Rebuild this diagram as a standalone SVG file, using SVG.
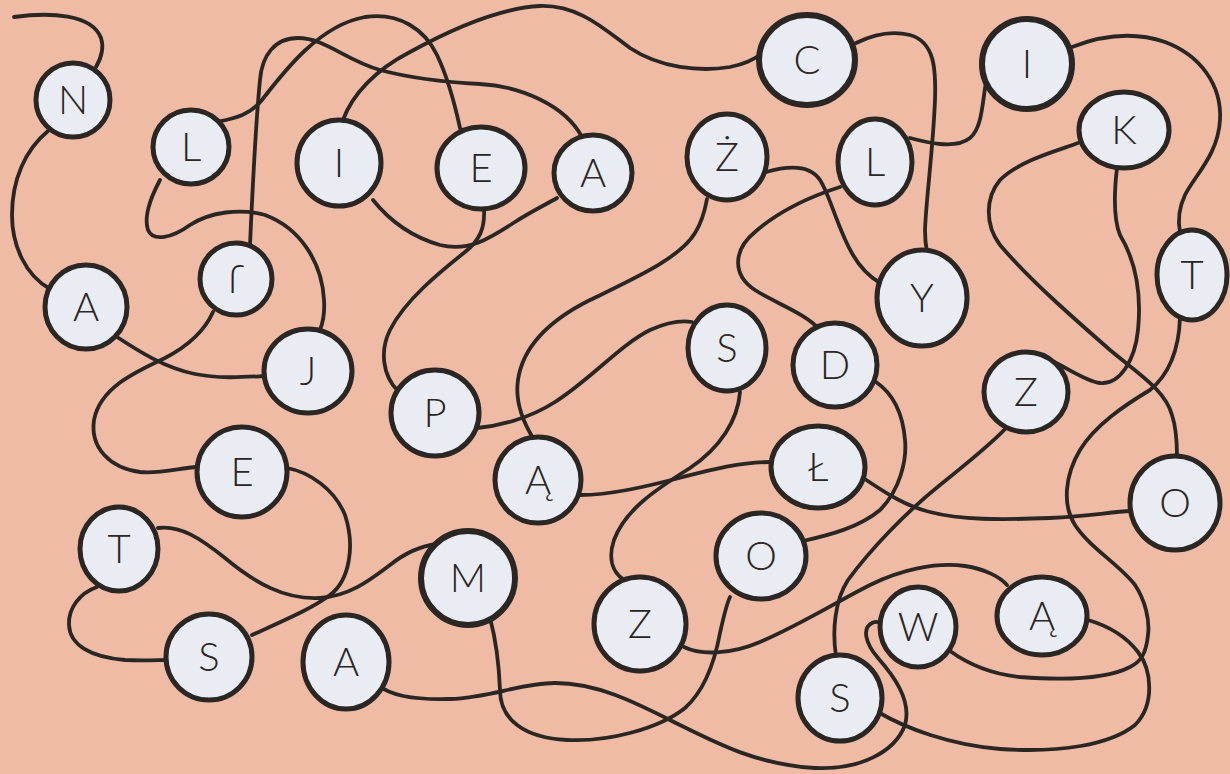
<svg xmlns="http://www.w3.org/2000/svg" width="1230" height="774" viewBox="0 0 1230 774">
<style>
.bg{fill:#EFBBA5}
.c path{fill:none;stroke:#2a2623;stroke-width:3.8;stroke-linecap:round;stroke-linejoin:round}
.n ellipse{fill:#E9ECF3;stroke:#2a2623;stroke-width:5}
.n text{font-family:Lato,"Open Sans","Liberation Sans",sans-serif;font-weight:300;font-size:40px;fill:#2a2623;text-anchor:middle}
</style>
<rect class="bg" x="0" y="0" width="1230" height="774"/>
<g id="connectors" class="c">
<path d="M14,17 C50,12 92,14 101,38 C105,50 100,60 96,67"/>
<path d="M48,131 C25,150 12,180 12,215 C12,245 25,275 50,289"/>
<path d="M117,337 C140,352 165,368 195,374 C220,379 245,377 265,376"/>
<path d="M160,180 C152,195 143,215 148,230 C153,242 172,238 190,225 C210,212 240,208 265,215 C300,228 322,262 324,300 C325,315 322,325 320,330"/>
<path d="M217,122 C235,118 250,115 262,100 C285,70 320,25 365,17 C400,12 425,30 437,55 C448,78 455,105 460,128"/>
<path d="M250,245 C252,200 256,120 260,80 C262,55 275,38 298,38 C325,38 345,60 380,70 C410,78 440,82 480,84 C520,86 565,105 582,137"/>
<path d="M343,120 C352,95 375,70 410,52 C450,30 500,8 540,6 C580,5 605,30 630,48 C660,68 700,72 730,67 C745,64 752,60 760,55"/>
<path d="M373,200 C385,215 405,235 440,245 C470,252 490,238 515,222 C530,212 545,205 557,198"/>
<path d="M484,209 C485,228 480,240 465,252 C440,272 405,300 390,330 C380,350 382,375 398,391"/>
<path d="M477,428 C500,426 530,418 555,402 C590,380 620,345 650,330 C668,322 680,320 692,322"/>
<path d="M740,392 C738,420 720,448 690,468 C655,490 625,510 614,540 C608,558 612,572 624,580"/>
<path d="M533,438 C522,420 515,400 518,380 C523,345 550,320 590,300 C635,278 680,258 695,233 C702,222 705,210 707,199"/>
<path d="M580,495 C610,495 645,487 683,477 C710,470 740,462 771,462"/>
<path d="M766,172 C780,168 808,162 820,180 C830,195 838,230 853,255 C860,267 870,277 880,283"/>
<path d="M840,187 C815,195 780,210 755,232 C733,250 732,275 755,290 C775,303 805,313 820,330"/>
<path d="M910,138 C925,142 955,150 970,138 C982,128 982,105 986,82"/>
<path d="M856,43 C870,36 890,30 910,35 C935,42 936,70 935,100 C933,150 926,200 925,230 C925,240 926,247 927,252"/>
<path d="M1072,47 C1095,38 1130,30 1165,42 C1200,55 1222,85 1220,120 C1218,155 1195,175 1185,195 C1178,210 1178,222 1180,232"/>
<path d="M1078,143 C1060,150 1020,160 1000,180 C985,198 985,225 1000,245 C1030,280 1070,315 1110,350 C1140,375 1165,390 1172,415 C1177,430 1177,445 1177,457"/>
<path d="M1117,168 C1115,185 1112,215 1120,235 C1135,260 1142,290 1138,330 C1135,360 1120,385 1100,383 C1085,381 1068,368 1050,360"/>
<path d="M1006,428 C995,440 965,465 940,485 C905,513 870,550 848,580 C835,600 832,630 836,656"/>
<path d="M857,474 C875,485 900,505 930,512 C960,520 1000,520 1050,518 C1090,516 1110,512 1131,511"/>
<path d="M1180,318 C1179,345 1172,372 1150,390 C1125,405 1095,425 1080,450 C1065,475 1062,505 1075,525 C1090,548 1120,565 1135,585 C1145,600 1150,620 1148,635 C1146,655 1140,662 1130,667 C1105,680 1060,680 1020,677 C990,674 968,664 950,651"/>
<path d="M878,712 C905,728 950,745 1000,749 C1060,753 1110,745 1135,725 C1155,705 1152,670 1138,652 C1125,635 1105,625 1088,620"/>
<path d="M684,647 C700,655 730,655 760,642 C800,625 840,600 870,585 C900,570 935,562 965,566 C985,569 1000,577 1007,585"/>
<path d="M490,618 C496,640 499,665 500,690 C500,720 525,738 567,740 C610,742 660,728 685,708 C705,690 715,660 720,633 C724,615 727,603 730,597"/>
<path d="M803,541 C830,535 860,527 880,510 C900,490 907,460 905,440 C903,415 895,395 876,382"/>
<path d="M376,684 C390,695 410,700 450,699 C490,698 520,683 555,683 C600,683 640,705 680,725 C720,745 760,765 815,768 C860,770 895,752 905,725 C912,700 893,675 878,658 C865,643 862,628 872,623 C876,621 880,622 883,624"/>
<path d="M287,468 C310,472 335,490 345,515 C355,545 350,580 330,595 C310,610 280,622 252,635"/>
<path d="M213,312 C205,330 190,345 165,358 C135,372 100,388 94,420 C90,448 110,468 140,472 C160,474 180,468 197,467"/>
<path d="M158,528 C180,525 200,538 225,558 C255,583 285,600 320,598 C350,596 370,580 390,565 C405,553 420,546 437,544"/>
<path d="M97,587 C80,593 68,608 69,625 C70,645 90,657 125,660 C145,661 158,660 167,660"/>
</g>
<g id="n1" class="n"><ellipse cx="73" cy="100" rx="37" ry="37"/><text x="73" y="114">N</text></g>
<g id="n2" class="n"><ellipse cx="86" cy="307" rx="41" ry="42"/><text x="86" y="321">A</text></g>
<g id="n3" class="n"><ellipse cx="308" cy="371" rx="44" ry="42"/><text x="308" y="385">J</text></g>
<g id="n4" class="n"><ellipse cx="191" cy="147" rx="38" ry="37"/><text x="191" y="161">L</text></g>
<g id="n5" class="n"><ellipse cx="481" cy="168" rx="44" ry="41"/><text x="481" y="182">E</text></g>
<g id="n6" class="n"><ellipse cx="435" cy="413" rx="44" ry="43"/><text x="435" y="427">P</text></g>
<g id="n7" class="n"><ellipse cx="727" cy="348" rx="39" ry="43"/><text x="727" y="362">S</text></g>
<g id="n8" class="n"><ellipse cx="640" cy="624" rx="46" ry="47"/><text x="640" y="638">Z</text></g>
<g id="n9" class="n"><ellipse cx="1042" cy="616" rx="45" ry="39"/><text x="1042" y="630">Ą</text></g>
<g id="n10" class="n"><ellipse cx="840" cy="698" rx="42" ry="43"/><text x="840" y="712">S</text></g>
<g id="n11" class="n"><ellipse cx="1026" cy="392" rx="42" ry="40"/><text x="1026" y="406">Z</text></g>
<g id="n12" class="n"><ellipse cx="1124" cy="130" rx="45" ry="38"/><text x="1124" y="144">K</text></g>
<g id="n13" class="n"><ellipse cx="1175" cy="503" rx="45" ry="47"/><text x="1175" y="517">O</text></g>
<g id="n14" class="n"><ellipse cx="818" cy="467" rx="47" ry="41"/><text x="818" y="481">Ł</text></g>
<g id="n15" class="n"><ellipse cx="538" cy="480" rx="43" ry="43"/><text x="538" y="494">Ą</text></g>
<g id="n16" class="n"><ellipse cx="727" cy="157" rx="40" ry="43"/><text x="727" y="171">Ż</text></g>
<g id="n17" class="n"><ellipse cx="922" cy="298" rx="45" ry="48"/><text x="922" y="312">Y</text></g>
<g id="n18" class="n"><ellipse cx="807" cy="60" rx="48" ry="45" style="stroke-width:6"/><text x="807" y="74">C</text></g>
<g id="n19" class="n"><ellipse cx="339" cy="163" rx="42" ry="43"/><text x="339" y="177">I</text></g>
<g id="n20" class="n"><ellipse cx="593" cy="173" rx="39" ry="38"/><text x="593" y="187">A</text></g>
<g id="n21" class="n"><ellipse cx="236" cy="279" rx="36" ry="36"/><text x="236" y="293" transform="rotate(180 236 279)">J</text></g>
<g id="n22" class="n"><ellipse cx="242" cy="472" rx="45" ry="45"/><text x="242" y="486">E</text></g>
<g id="n23" class="n"><ellipse cx="209" cy="657" rx="43" ry="43"/><text x="209" y="671">S</text></g>
<g id="n24" class="n"><ellipse cx="119" cy="549" rx="39" ry="42"/><text x="119" y="563">T</text></g>
<g id="n25" class="n"><ellipse cx="468" cy="578" rx="47" ry="47" style="stroke-width:6"/><text x="468" y="592">M</text></g>
<g id="n26" class="n"><ellipse cx="761" cy="556" rx="45" ry="43"/><text x="761" y="570">O</text></g>
<g id="n27" class="n"><ellipse cx="835" cy="365" rx="42" ry="42"/><text x="835" y="379">D</text></g>
<g id="n28" class="n"><ellipse cx="875" cy="162" rx="37" ry="43"/><text x="875" y="176">L</text></g>
<g id="n29" class="n"><ellipse cx="1027" cy="64" rx="45" ry="45" style="stroke-width:6"/><text x="1027" y="78">I</text></g>
<g id="n30" class="n"><ellipse cx="1192" cy="275" rx="35" ry="45"/><text x="1192" y="289">T</text></g>
<g id="n31" class="n"><ellipse cx="918" cy="627" rx="38" ry="40"/><text x="918" y="641">W</text></g>
<g id="n32" class="n"><ellipse cx="346" cy="662" rx="43" ry="47"/><text x="346" y="676">A</text></g>
</svg>
